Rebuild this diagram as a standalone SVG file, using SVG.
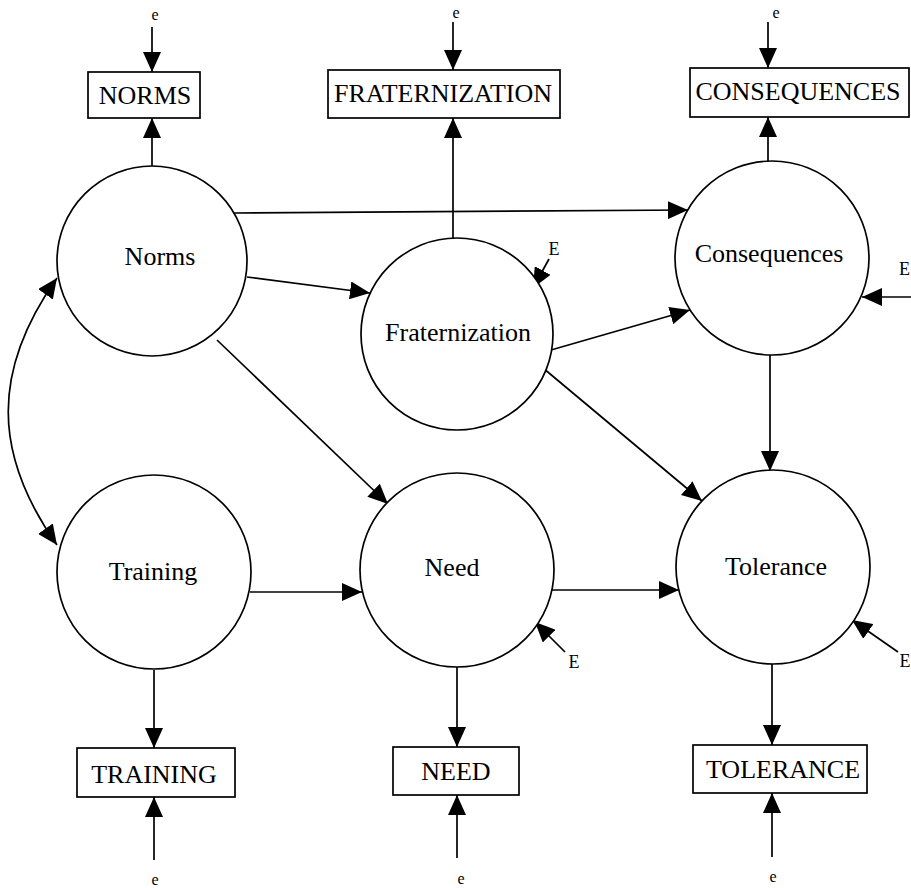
<svg xmlns="http://www.w3.org/2000/svg" width="911" height="888" viewBox="0 0 911 888">
  <style>
    .latent { fill: #fff; stroke: #000; stroke-width: 1.7; }
    .obs { fill: #fff; stroke: #000; stroke-width: 1.7; }
    .lbl { font-family: "Liberation Serif", "Times New Roman", serif; font-size: 26px; fill: #000; text-anchor: middle; }
    .err { font-family: "Liberation Serif", "Times New Roman", serif; font-size: 16px; fill: #000; text-anchor: middle; }
    .dist { font-family: "Liberation Serif", "Times New Roman", serif; font-size: 18px; fill: #000; text-anchor: middle; }
    .edge { fill: none; stroke: #000; stroke-width: 1.7; marker-end: url(#head); }
  </style>
  <defs>
    <marker id="head" viewBox="0 0 20 18" refX="20" refY="9" markerWidth="20" markerHeight="18" markerUnits="userSpaceOnUse" orient="auto-start-reverse">
      <path d="M0,0 L20,9 L0,18 z" fill="#000"/>
    </marker>
  </defs>

  <!-- connectors -->
  <g id="connectors">
    <!-- structural paths -->
    <line class="edge" x1="233" y1="213" x2="688" y2="210"/>
    <line class="edge" x1="247" y1="277" x2="370" y2="293"/>
    <line class="edge" x1="217" y1="340" x2="388" y2="504"/>
    <line class="edge" x1="551" y1="350" x2="690" y2="310"/>
    <line class="edge" x1="543" y1="368" x2="702" y2="501"/>
    <line class="edge" x1="770" y1="355" x2="770" y2="471"/>
    <line class="edge" x1="250" y1="592" x2="362" y2="592"/>
    <line class="edge" x1="552" y1="590" x2="679" y2="590"/>
    <!-- covariance -->
    <path class="edge" style="marker-start:url(#head)" d="M57,278 C-8,370 -8,453 57,545"/>
    <!-- loadings -->
    <line class="edge" x1="152" y1="167" x2="152" y2="118"/>
    <line class="edge" x1="453" y1="238" x2="453" y2="118"/>
    <line class="edge" x1="768" y1="161" x2="768" y2="117"/>
    <line class="edge" x1="154" y1="670" x2="154" y2="748"/>
    <line class="edge" x1="457" y1="667" x2="457" y2="747"/>
    <line class="edge" x1="772" y1="664" x2="772" y2="745"/>
    <!-- measurement errors -->
    <line class="edge" x1="152" y1="27" x2="152" y2="72"/>
    <line class="edge" x1="453" y1="22" x2="453" y2="70"/>
    <line class="edge" x1="768" y1="22" x2="768" y2="68"/>
    <line class="edge" x1="154" y1="860" x2="154" y2="797"/>
    <line class="edge" x1="457" y1="858" x2="457" y2="795"/>
    <line class="edge" x1="772" y1="857" x2="772" y2="793"/>
    <!-- disturbances -->
    <line class="edge" x1="549" y1="259" x2="533" y2="288"/>
    <line class="edge" x1="911" y1="297" x2="862" y2="297"/>
    <line class="edge" x1="565" y1="652" x2="535" y2="622"/>
    <line class="edge" x1="898" y1="652" x2="852" y2="620"/>
  </g>

  <!-- latent variables -->
  <g id="norms"><circle class="latent" cx="152" cy="261" r="95"/><text class="lbl" x="160" y="265">Norms</text></g>
  <g id="fraternization"><circle class="latent" cx="457" cy="334" r="96"/><text class="lbl" x="458" y="341">Fraternization</text></g>
  <g id="consequences"><circle class="latent" cx="772" cy="258" r="97"/><text class="lbl" x="769" y="262">Consequences</text></g>
  <g id="training"><circle class="latent" cx="154" cy="572" r="97"/><text class="lbl" x="153" y="580">Training</text></g>
  <g id="need"><circle class="latent" cx="457" cy="570" r="97"/><text class="lbl" x="452" y="576">Need</text></g>
  <g id="tolerance"><circle class="latent" cx="773" cy="567" r="97"/><text class="lbl" x="776" y="575">Tolerance</text></g>

  <!-- indicators -->
  <g id="NORMS"><rect class="obs" x="88" y="72" width="112" height="46"/><text class="lbl" x="145" y="104">NORMS</text></g>
  <g id="FRATERNIZATION"><rect class="obs" x="328" y="70" width="232" height="48"/><text class="lbl" x="443" y="102">FRATERNIZATION</text></g>
  <g id="CONSEQUENCES"><rect class="obs" x="690" y="68" width="219" height="49"/><text class="lbl" x="798" y="100">CONSEQUENCES</text></g>
  <g id="TRAINING"><rect class="obs" x="77" y="748" width="158" height="49"/><text class="lbl" x="154" y="783">TRAINING</text></g>
  <g id="NEED"><rect class="obs" x="393" y="747" width="126" height="48"/><text class="lbl" x="456" y="780">NEED</text></g>
  <g id="TOLERANCE"><rect class="obs" x="693" y="745" width="174" height="48"/><text class="lbl" x="783" y="778">TOLERANCE</text></g>

  <!-- error and disturbance labels -->
  <g id="errors">
    <text class="err" x="155" y="20">e</text>
    <text class="err" x="456" y="18">e</text>
    <text class="err" x="776" y="18">e</text>
    <text class="err" x="155" y="885">e</text>
    <text class="err" x="461" y="884">e</text>
    <text class="err" x="773" y="882">e</text>
    <text class="dist" x="554" y="255">E</text>
    <text class="dist" x="910" y="275" style="text-anchor:end">E</text>
    <text class="dist" x="574" y="668">E</text>
    <text class="dist" x="905" y="667">E</text>
  </g>
</svg>
